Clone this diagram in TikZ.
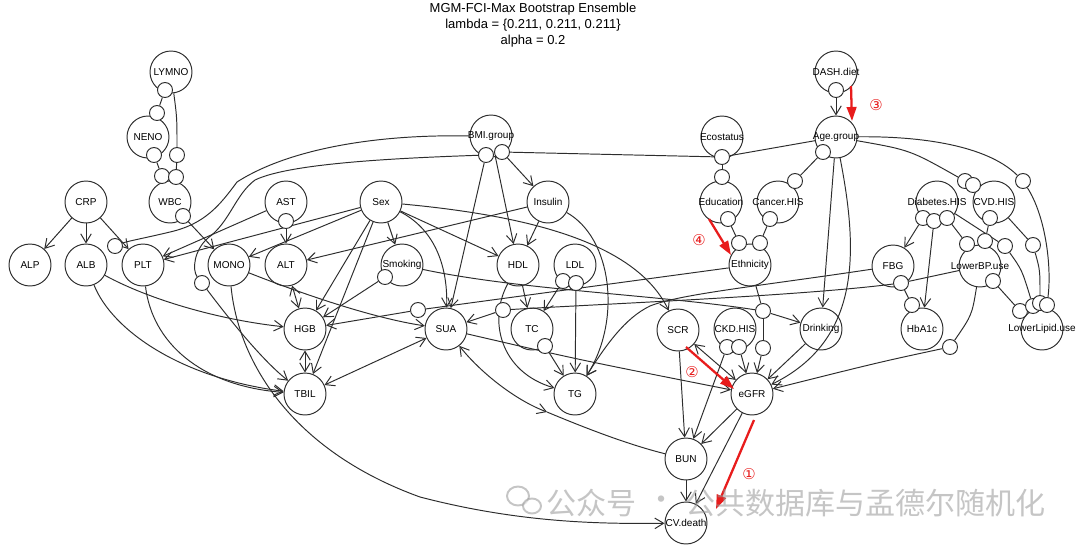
\documentclass[tikz,border=0pt]{standalone}
\usepackage{fontspec}
\setmainfont{Liberation Sans}
\newfontfamily\wmfont{Noto Sans CJK SC}
\newfontfamily\djvfont{DejaVu Sans}
\usetikzlibrary{arrows.meta}
\pgfdeclarelayer{fg}
\pgfsetlayers{main,fg}
\definecolor{edgec}{RGB}{45,45,45}
\definecolor{redmark}{RGB}{232,28,28}
\definecolor{wmark}{RGB}{150,150,150}
\newcommand{\lblfont}{\fontsize{5.7}{6.5}\selectfont}
\newcommand{\ttlfont}{\fontsize{7.4}{9}\selectfont}
\newcommand{\vlab}[1]{\makebox[0pt][c]{#1}}
\tikzset{
  vnode/.style={circle, draw=edgec, line width=0.55pt, minimum size=0.84cm, inner sep=0pt, font=\lblfont},
  sc/.style={circle, draw=edgec, fill=white, line width=0.55pt, minimum size=0.3cm, inner sep=0pt},
  ln/.style={draw=edgec, line width=0.55pt},
  >={Straight Barb[length=5pt,width=6pt]},
  redarrow/.style={draw=redmark, line width=1.3pt, -{Triangle[length=8pt,width=5.5pt]}},
  rednum/.style={text=redmark, font=\djvfont\fontsize{8.5}{9}\selectfont, inner sep=0pt},
  ttl/.style={font=\ttlfont, inner sep=0pt},
  wm/.style={text=wmark, opacity=0.55, font=\wmfont\fontsize{17.1}{17.1}\selectfont, inner sep=0pt, anchor=west},
}
\begin{document}
\begin{tikzpicture}[x=0.02cm,y=-0.02cm]
\fill[white] (0,0) rectangle (1080,549);
\useasboundingbox (0,0) rectangle (1080,549);
% title
\node[ttl] (t1) at (533,9) {MGM-FCI-Max Bootstrap Ensemble};
\node[ttl] (t2) at (533,25) {lambda = \{0.211, 0.211, 0.211\}};
\node[ttl] (t3) at (533,41) {alpha = 0.2};
% variables
\node[vnode] (LYMNO) at (171,72) {\vlab{LYMNO}};
\node[vnode] (NENO) at (148,137) {\vlab{NENO}};
\node[vnode] (WBC) at (170,202) {\vlab{WBC}};
\node[vnode] (CRP) at (86,202) {\vlab{CRP}};
\node[vnode] (AST) at (286,202) {\vlab{AST}};
\node[vnode] (Sex) at (381,202) {\vlab{Sex}};
\node[vnode] (ALP) at (30,265) {\vlab{ALP}};
\node[vnode] (ALB) at (86,265) {\vlab{ALB}};
\node[vnode] (PLT) at (143,265) {\vlab{PLT}};
\node[vnode] (MONO) at (229,265) {\vlab{MONO}};
\node[vnode] (ALT) at (286,265) {\vlab{ALT}};
\node[vnode] (Smoking) at (402,265) {\vlab{Smoking}};
\node[vnode] (HGB) at (305,329) {\vlab{HGB}};
\node[vnode] (TBIL) at (305,394) {\vlab{TBIL}};
\node[vnode] (SUA) at (446,329) {\vlab{SUA}};
\node[vnode] (BMI) at (491,136) {\vlab{BMI.group}};
\node[vnode] (Insulin) at (548,202) {\vlab{Insulin}};
\node[vnode] (HDL) at (518,265) {\vlab{HDL}};
\node[vnode] (LDL) at (575,265) {\vlab{LDL}};
\node[vnode] (TC) at (532,329) {\vlab{TC}};
\node[vnode] (TG) at (575,394) {\vlab{TG}};
\node[vnode] (SCR) at (678,330) {\vlab{SCR}};
\node[vnode] (CKD) at (735,329) {\vlab{CKD.HIS}};
\node[vnode] (Drinking) at (821,329) {\vlab{Drinking}};
\node[vnode] (eGFR) at (752,394) {\vlab{eGFR}};
\node[vnode] (BUN) at (686,459) {\vlab{BUN}};
\node[vnode] (CVd) at (686,523) {\vlab{CV.death}};
\node[vnode] (Eco) at (722,137) {\vlab{Ecostatus}};
\node[vnode] (Edu) at (721,202) {\vlab{Education}};
\node[vnode] (Cancer) at (778,202) {\vlab{Cancer.HIS}};
\node[vnode] (Eth) at (750,265) {\vlab{Ethnicity}};
\node[vnode] (DASH) at (836,72) {\vlab{DASH.diet}};
\node[vnode] (Age) at (836,137) {\vlab{Age.group}};
\node[vnode] (Diab) at (937,202) {\vlab{Diabetes.HIS}};
\node[vnode] (CVD) at (994,202) {\vlab{CVD.HIS}};
\node[vnode] (FBG) at (893,266) {\vlab{FBG}};
\node[vnode] (LBP) at (980,266) {\vlab{LowerBP.use}};
\node[vnode] (HbA) at (922,329) {\vlab{HbA1c}};
\node[vnode] (LLip) at (1042,329) {\vlab{LowerLipid.use}};
% circle end marks
\begin{pgfonlayer}{fg}
\node[sc] (a1) at (165,90) {};
\node[sc] (a2) at (157,113) {};
\node[sc] (a3) at (154,155) {};
\node[sc] (a4) at (162,176) {};
\node[sc] (a5) at (177,155) {};
\node[sc] (a6) at (176,177) {};
\node[sc] (a7) at (183,216) {};
\node[sc] (b1) at (115,246) {};
\node[sc] (b2) at (202,283) {};
\node[sc] (d1) at (286,221) {};
\node[sc] (e1) at (385,277) {};
\node[sc] (e2) at (418,310) {};
\node[sc] (e3) at (503,310) {};
\node[sc] (f1) at (486,155) {};
\node[sc] (f2) at (502,152) {};
\node[sc] (l1) at (563,281) {};
\node[sc] (l2) at (576,283) {};
\node[sc] (tc1) at (545,346) {};
\node[sc] (g1) at (722,157) {};
\node[sc] (g2) at (722,177) {};
\node[sc] (g3) at (823,152) {};
\node[sc] (g4) at (795,181) {};
\node[sc] (g5) at (728,219) {};
\node[sc] (g6) at (739,243) {};
\node[sc] (g7) at (770,219) {};
\node[sc] (g8) at (760,243) {};
\node[sc] (g9) at (836,90) {};
\node[sc] (h1) at (965,181) {};
\node[sc] (h2) at (973,185) {};
\node[sc] (h3) at (1023,181) {};
\node[sc] (i1) at (923,218) {};
\node[sc] (i2) at (934,221) {};
\node[sc] (i3) at (947,218) {};
\node[sc] (i4) at (967,244) {};
\node[sc] (i5) at (1005,246) {};
\node[sc] (i6) at (990,218) {};
\node[sc] (i7) at (985,241) {};
\node[sc] (i8) at (1033,245) {};
\node[sc] (i9) at (993,281) {};
\node[sc] (i10) at (1020,311) {};
\node[sc] (i11) at (1033,306) {};
\node[sc] (i12) at (1040,303) {};
\node[sc] (i13) at (1047,305) {};
\node[sc] (i14) at (901,283) {};
\node[sc] (i15) at (912,305) {};
\node[sc] (i16) at (950,347) {};
\node[sc] (j1) at (727,347) {};
\node[sc] (j2) at (739,347) {};
\node[sc] (j3) at (763,311) {};
\node[sc] (j4) at (763,348) {};
\end{pgfonlayer}
\coordinate (k1) at (547,412);
% top-left cluster
\draw[ln] (a1) -- (a2);
\draw[ln] (a3) -- (a4);
\draw[ln] (LYMNO) .. controls (177,118) .. (a5);
\draw[ln] (a5) -- (a6);
\draw[ln,->] (a7) -- (MONO);
\draw[ln,->] (CRP) -- (ALP);
\draw[ln,->] (CRP) -- (ALB);
\draw[ln,->] (CRP) -- (PLT);
% long BMI curves
\draw[ln] (BMI.west) .. controls (380,134) and (290,148) .. (237,182) .. controls (220,205) and (205,224) .. (170,232) .. controls (145,238) and (128,241) .. (b1);
\draw[ln] (f1) .. controls (400,158) and (290,163) .. (255,180) .. controls (235,195) and (230,222) .. (208,238) .. controls (194,250) and (192,270) .. (b2);
\draw[ln,->] (b2) .. controls (230,320) and (262,360) .. (TBIL);
\draw[ln,->] (MONO) .. controls (238,360) and (290,450) .. (420,497) .. controls (520,523) and (600,524) .. (CVd);
% AST, Sex, Insulin
\draw[ln,->] (d1) -- (ALT);
\draw[ln,->] (AST) -- (PLT);
\draw[ln,->] (Sex) -- (PLT);
\draw[ln,->] (Sex) -- (MONO);
\draw[ln,->] (Insulin) -- (ALT);
\draw[ln,->] (Sex) -- (Smoking);
\draw[ln,->] (Sex) -- (HGB);
\draw[ln,->] (Sex) -- (TBIL);
\draw[ln,->] (Sex) .. controls (432,228) and (448,262) .. (SUA);
\draw[ln,->] (Sex) -- (HDL);
\draw[ln,->] (Sex) .. controls (520,215) and (635,240) .. (SCR);
% BMI
\draw[ln,->] (f1) -- (SUA);
\draw[ln,->] (BMI) -- (HDL);
\draw[ln,->] (f2) -- (Insulin);
\draw[ln] (f2) -- (g1);
\draw[ln] (g1) -- (Age);
% Ecostatus, Education, Cancer, Ethnicity, Age
\draw[ln] (g1) -- (g2);
\draw[ln] (g3) -- (g4);
\draw[ln] (g5) -- (g6);
\draw[ln] (g7) -- (g8);
\draw[ln,->] (g9) -- (Age);
\draw[ln,->] (Age) -- (Drinking);
\draw[ln,->] (Age) .. controls (858,250) and (862,340) .. (eGFR);
\draw[ln] (Age) .. controls (910,150) .. (h1);
\draw[ln] (Age) .. controls (930,136) and (990,148) .. (h3);
% right cluster
\draw[ln] (h3) .. controls (1045,215) and (1052,265) .. (i13);
\draw[ln,->] (i1) -- (FBG);
\draw[ln,->] (i2) -- (HbA);
\draw[ln] (i3) -- (i4);
\draw[ln] (Diab) -- (i5);
\draw[ln] (i5) .. controls (1022,270) .. (i11);
\draw[ln] (i6) -- (i7);
\draw[ln] (CVD) -- (i8);
\draw[ln] (i8) .. controls (1040,270) .. (i12);
\draw[ln] (i9) -- (i10);
\draw[ln] (i14) -- (i15);
\draw[ln] (LBP) .. controls (972,315) .. (i16);
\draw[ln,->] (i16) .. controls (880,362) .. (eGFR);
% long middle lines
\draw[ln] (Eth) -- (e2);
\draw[ln,->] (e2) -- (HGB);
\draw[ln] (Eth) -- (j3);
\draw[ln,->] (j3) -- (Drinking);
\draw[ln] (j3) -- (j4);
\draw[ln,->] (j4) -- (eGFR);
\draw[ln] (Smoking) .. controls (520,290) and (660,295) .. (j3);
\draw[ln,->] (FBG) .. controls (760,286) and (680,294) .. (650,306) .. controls (625,318) and (606,345) .. (TG);
\draw[ln] (LBP) -- (i14);
\draw[ln] (i14) .. controls (800,296) and (600,304) .. (e3);
\draw[ln,->] (e3) -- (SUA);
% lower-left
\draw[ln,->] (e1) -- (HGB);
\draw[ln,->] (ALB) .. controls (150,300) and (220,320) .. (HGB);
\draw[ln,->] (ALB) .. controls (112,330) and (180,378) .. (TBIL);
\draw[ln,->] (PLT) .. controls (152,342) and (200,386) .. (TBIL);
\draw[ln,->] (MONO) .. controls (300,293) and (372,318) .. (SUA);
\draw[ln,<->] (ALT) -- (HGB);
\draw[ln,<->] (HGB) -- (TBIL);
\draw[ln,<->] (SUA) -- (TBIL);
% lipids
\draw[ln,->] (Insulin) -- (HDL);
\draw[ln,->] (HDL) -- (TC);
\draw[ln,->] (l1) -- (TC);
\draw[ln,->] (l2) -- (TG);
\draw[ln,->] (tc1) -- (TG);
\draw[ln,->] (Insulin) .. controls (612,238) and (622,320) .. (TG);
\draw[ln,->] (HDL) .. controls (488,320) and (500,372) .. (TG);
\draw[ln,<->] (SUA) .. controls (480,372) and (515,400) .. (k1);
\draw[ln] (k1) .. controls (590,430) and (630,445) .. (BUN);
% kidney
\draw[ln,<->] (SCR) -- (eGFR);
\draw[ln,->] (SCR) -- (BUN);
\draw[ln,->] (j1) -- (BUN);
\draw[ln,->] (j2) -- (eGFR);
\draw[ln,->] (Drinking) -- (eGFR);
\draw[ln,->] (SUA) .. controls (580,360) .. (eGFR);
\draw[ln,->] (eGFR) -- (BUN);
\draw[ln,->] (eGFR) -- (CVd);
\draw[ln,->] (BUN) -- (CVd);
% red annotations
\coordinate (r3a) at (851,86); \coordinate (r3b) at (852,121);
\coordinate (r4a) at (709,219); \coordinate (r4b) at (731,255);
\coordinate (r2a) at (686,347); \coordinate (r2b) at (734,389);
\coordinate (r1a) at (754,420); \coordinate (r1b) at (716,509);
\draw[redarrow] (r3a) -- (r3b);
\draw[redarrow] (r4a) -- (r4b);
\draw[redarrow] (r2a) -- (r2b);
\draw[redarrow] (r1a) -- (r1b);
\node[rednum] (n3) at (876,105) {③};
\node[rednum] (n4) at (699,240) {④};
\node[rednum] (n2) at (692,372) {②};
\node[rednum] (n1) at (749,474) {①};
% watermark
\begin{scope}[opacity=0.55]
\draw[wmark, line width=1.1pt, fill=white] (518,496) ellipse [x radius=0.22cm, y radius=0.19cm];
\draw[wmark, line width=1.1pt, fill=white] (532,506) ellipse [x radius=0.18cm, y radius=0.15cm];
\end{scope}
\node[wm] (w1) at (546,503) {公众号};
\node[wm,anchor=center] (w2) at (662,503) {·};
\node[wm] (w3) at (685,503) {公共数据库与孟德尔随机化};
\end{tikzpicture}
\end{document}
